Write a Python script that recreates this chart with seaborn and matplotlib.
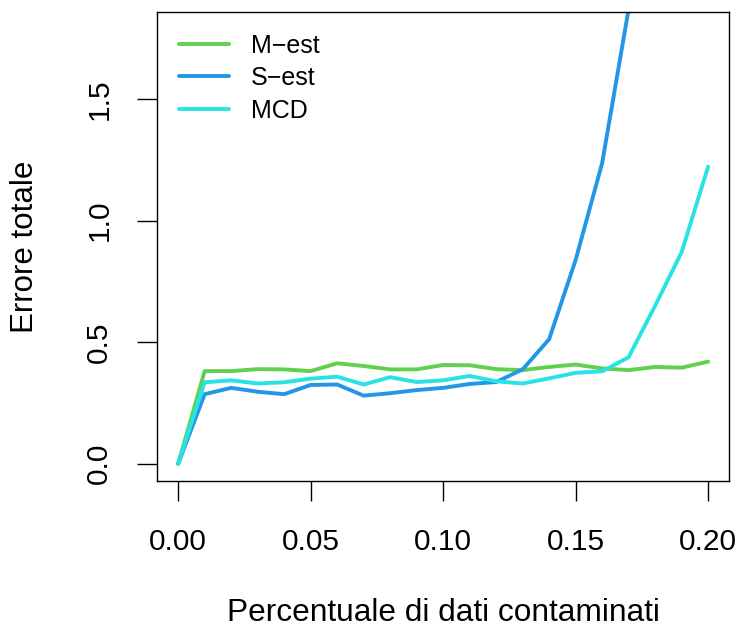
import numpy as np
import pandas as pd
import matplotlib
matplotlib.use('Agg')
import matplotlib.pyplot as plt
import seaborn as sns

# contamination levels
perc = [0.00, 0.01, 0.02, 0.03, 0.04, 0.05, 0.06, 0.07, 0.08, 0.09, 0.10,
        0.11, 0.12, 0.13, 0.14, 0.15, 0.16, 0.17, 0.18, 0.19, 0.20]

m_est = [0.000, 0.381, 0.381, 0.389, 0.388, 0.381, 0.413, 0.402, 0.388, 0.388, 0.406,
         0.405, 0.389, 0.385, 0.398, 0.408, 0.392, 0.385, 0.398, 0.395, 0.420]
s_est = [0.000, 0.286, 0.312, 0.296, 0.286, 0.324, 0.326, 0.280, 0.290, 0.303, 0.312,
         0.328, 0.336, 0.388, 0.512, 0.838, 1.236, 1.870, 2.600, 3.400, 4.300]
mcd = [0.000, 0.335, 0.343, 0.330, 0.335, 0.350, 0.358, 0.326, 0.356, 0.336, 0.343,
       0.361, 0.339, 0.330, 0.351, 0.374, 0.380, 0.438, 0.650, 0.870, 1.222]

labels = ['M\u2212est', 'S\u2212est', 'MCD']
colors = ['#61D04F', '#2297E6', '#28E2E5']

df = pd.DataFrame({
    'perc': perc * 3,
    'errore': m_est + s_est + mcd,
    'metodo': [labels[0]] * len(perc) + [labels[1]] * len(perc) + [labels[2]] * len(perc),
})

sns.set_style('ticks')
plt.rcParams['font.family'] = ['Liberation Sans', 'DejaVu Sans']
plt.rcParams['text.color'] = 'black'
plt.rcParams['axes.labelcolor'] = 'black'

fig = plt.figure(figsize=(7.39, 6.28), dpi=100)
ax = fig.add_axes([0.2124, 0.2341, 0.7745, 0.7460])

sns.lineplot(data=df, x='perc', y='errore', hue='metodo', palette=colors,
             linewidth=2.8, ax=ax, legend=False, sort=False)

ax.set_xlim(-0.008, 0.208)
ax.set_ylim(-0.071, 1.856)
ax.set_xticks([0.00, 0.05, 0.10, 0.15, 0.20])
ax.set_xticklabels(['0.00', '0.05', '0.10', '0.15', '0.20'])
ax.set_yticks([0.0, 0.5, 1.0, 1.5])
ax.set_yticklabels(['0.0', '0.5', '1.0', '1.5'], rotation=90, va='center')

for s in ax.spines.values():
    s.set_visible(True)
    s.set_color('black')
    s.set_linewidth(1.0)

ax.tick_params(axis='both', direction='out', length=14.4, width=1.0,
               color='black', labelsize=21.5, labelcolor='black')
ax.tick_params(axis='x', pad=19.5)
ax.tick_params(axis='y', pad=17)

ax.set_xlabel('Percentuale di dati contaminati', fontsize=22.8)
ax.set_ylabel('Errore totale', fontsize=22.5)
ax.xaxis.set_label_coords(0.5, -0.2816)
ax.xaxis.label.set_va('center')
ax.yaxis.set_label_coords(-0.2307, 0.5)
ax.yaxis.label.set_va('center')

handles = [plt.Line2D([], [], color=c, linewidth=2.8) for c in colors]
ax.legend(handles, labels, loc='upper left', frameon=False, fontsize=18,
          handlelength=2.0, handletextpad=0.9, labelspacing=0.34,
          borderaxespad=0.0, bbox_to_anchor=(0.0205, 0.9765))

fig.savefig('out.png', dpi=100)
